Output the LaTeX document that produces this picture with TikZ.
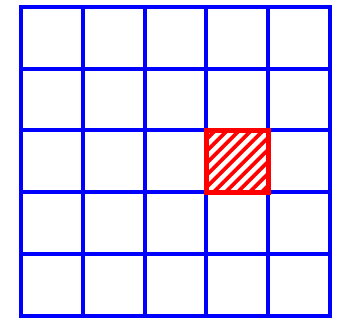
\documentclass[tikz,border=0pt]{standalone}
\usepackage{tikz}
\usetikzlibrary{patterns.meta}

\begin{document}
\begin{tikzpicture}[gridline/.style={draw=blue, line width=1.8pt, line cap=rect}, hatched/.style={draw=red, line width=2.2pt, minimum size=1cm, inner sep=0pt, outer sep=0pt, pattern={Lines[angle=45, distance=3.9pt, line width=1.7pt]}, pattern color=red}]
\useasboundingbox (-0.34,-0.1) rectangle (5.39,5.11);
\foreach \i in {0,...,5} {
  \draw[gridline] (\i,0) -- (\i,5);
  \draw[gridline] (0,\i) -- (5,\i);
}
\node[hatched] (cell) at (3.5,2.5) {};
\end{tikzpicture}
\end{document}
